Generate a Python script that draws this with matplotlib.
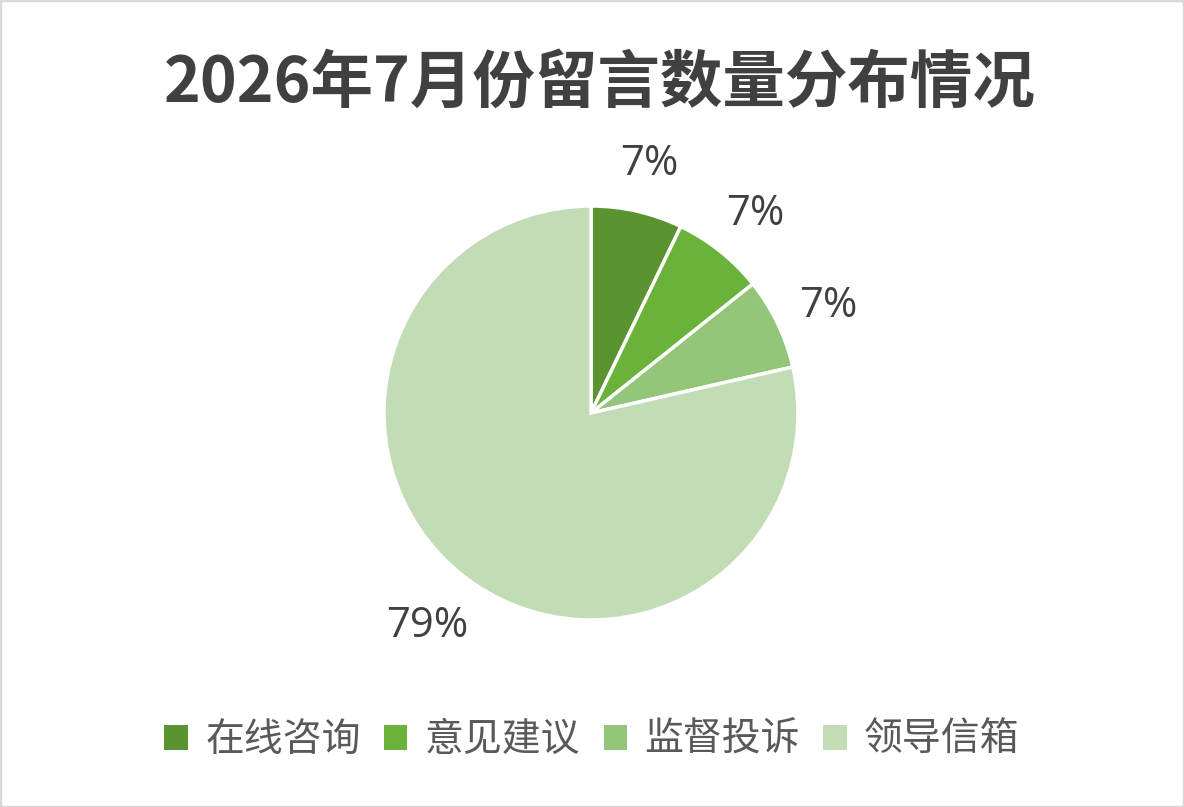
import matplotlib
matplotlib.use('Agg')
import matplotlib.pyplot as plt
import matplotlib.transforms as mtransforms
from matplotlib.patches import Rectangle

## Datos del grafico
categorias = ['在线咨询', '意见建议', '监督投诉', '领导信箱']
valores = [1, 1, 1, 11]
colores = ['#5A9431', '#6BB23A', '#93C679', '#C2DDB6']
titulo = '2026年7月份留言数量分布情况'

plt.rcParams['font.family'] = ['Noto Sans CJK SC', 'DejaVu Sans']

W, H = 1184, 807
fig = plt.figure(figsize=(W / 100, H / 100), dpi=100)

## Marco gris del grafico
fig.patches.append(Rectangle((0, 0), 1, 1, transform=fig.transFigure, fill=False,
                             edgecolor='#D9D9D9', linewidth=2.5))

## Titulo
fig.text(600 / W, 1 - 83 / H, titulo, ha='center', va='center', fontsize=45,
         fontweight='bold', color='#404040')

## Tarta: centro (591, 413), radio 207 px
cx, cy, r = 591, 413, 207
lado = 2.5 * r
ax = fig.add_axes([(cx - lado / 2) / W, (H - cy - lado / 2) / H, lado / W, lado / H])
wedges, _, textos = ax.pie(valores, colors=colores, startangle=90, counterclock=False,
                           autopct='%.0f%%', pctdistance=1.27,
                           wedgeprops=dict(edgecolor='white', linewidth=2.5),
                           textprops=dict(fontsize=30, color='#404040', family=['Open Sans', 'DejaVu Sans']))

# Bajamos un poco las etiquetas
for t in textos:
    t.set_transform(mtransforms.offset_copy(t.get_transform(), fig=fig, x=0, y=-7, units='dots'))

## Leyenda
handles = [Rectangle((0, 0), 1, 1, facecolor=c, edgecolor='none') for c in colores]
fig.legend(handles, categorias, loc='center', bbox_to_anchor=(0.5, 1 - 740 / H), ncol=4,
           frameon=False, fontsize=28, labelcolor='#595959', handlelength=0.6,
           handleheight=0.6, handletextpad=0.45, columnspacing=0.6)

fig.savefig('out.png', dpi=100)
